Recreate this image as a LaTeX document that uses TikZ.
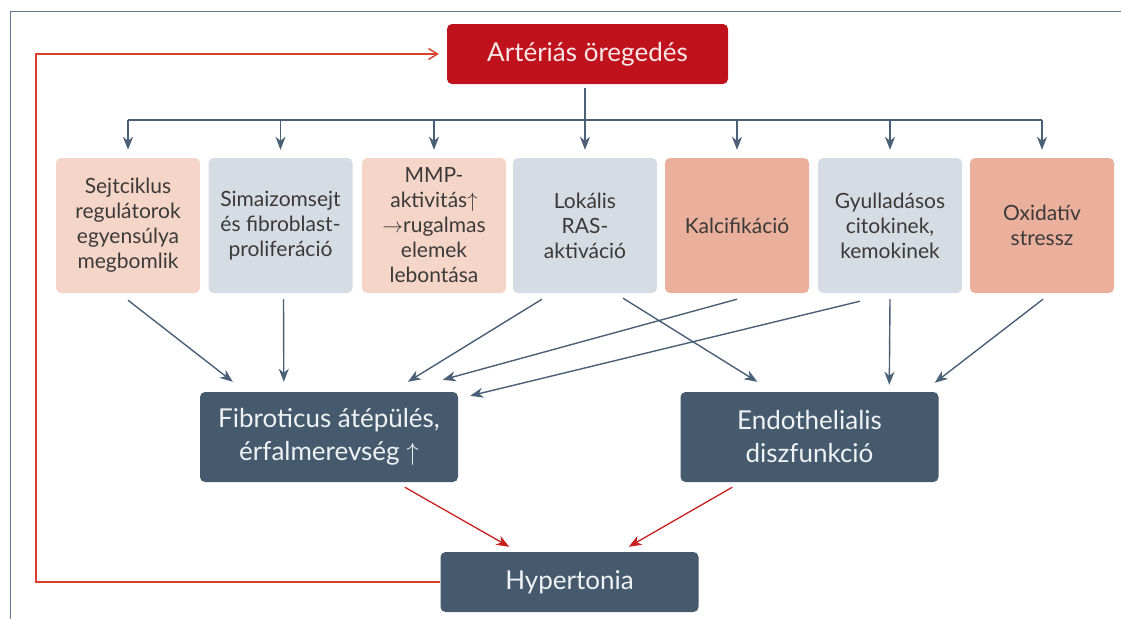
\documentclass[tikz,border=0pt]{standalone}
\usepackage{fontspec}
\setmainfont{Lato}
\usetikzlibrary{arrows.meta}
\usetikzlibrary{calc}
\definecolor{framecol}{HTML}{5F7A92}
\definecolor{agingred}{HTML}{C0121D}
\definecolor{palepink}{HTML}{F6D5C9}
\definecolor{palegray}{HTML}{D6DCE3}
\definecolor{salmonbox}{HTML}{EBB09C}
\definecolor{slate}{HTML}{455A6D}
\definecolor{linkcol}{HTML}{4A6076}
\definecolor{fbred}{HTML}{D9412E}
\definecolor{hypred}{HTML}{C8201E}
\definecolor{boxtext}{HTML}{3A3A3A}

\begin{document}
\begin{tikzpicture}[x=1pt,y=-1pt,
    box/.style={rounded corners=5pt,align=center,inner sep=0pt,minimum width=144pt,minimum height=135pt,text=boxtext,font=\fontsize{21}{25}\selectfont},
    pinkbox/.style={box,fill=palepink},
    graybox/.style={box,fill=palegray},
    redbox/.style={box,fill=salmonbox},
    darkbox/.style={rounded corners=5pt,align=center,inner sep=0pt,fill=slate,text=white!92!slate,minimum width=258pt,minimum height=90pt,font=\fontsize{26}{33}\selectfont},
    link/.style={draw=linkcol,line width=1.4pt,-{Stealth[length=13pt,width=10pt,inset=4pt]}},
    redlink/.style={draw=hypred,line width=1.3pt,-{Stealth[length=13pt,width=10pt,inset=4pt]}}]
    \useasboundingbox (0,0) rectangle (1121,619);
    \draw[framecol,line width=1pt] (1121,11) -- (10,11) -- (10,619);
    %top
    \node[rounded corners=5pt,fill=agingred,text=white!90!agingred,minimum width=281pt,minimum height=60pt,inner sep=0pt,font=\fontsize{26}{33}\selectfont] (aging) at (587.5,54) {Artériás öregedés};
    %row of causes
    \node[pinkbox] (r1) at (128,225.5) {Sejtciklus\\regulátorok\\egyensúlya\\megbomlik};
    \node[graybox] (r2) at (280.5,225.5) {Simaizomsejt\\és fibroblast-\\proliferáció};
    \node[pinkbox] (r3) at (434,225.5) {MMP-\\aktivitás$\uparrow$\\$\rightarrow$rugalmas\\elemek\\lebontása};
    \node[graybox] (r4) at (585,225.5) {Lokális\\RAS-\\aktiváció};
    \node[redbox] (r5) at (737,225.5) {Kalcifikáció};
    \node[graybox] (r6) at (890,225.5) {Gyulladásos\\citokinek,\\kemokinek};
    \node[redbox] (r7) at (1042,225.5) {Oxidatív\\stressz};
    %consequences
    \node[darkbox] (fib) at (329,437) {Fibroticus átépülés,\\érfalmerevség $\uparrow$};
    \node[darkbox] (endo) at (809.5,437) {Endothelialis\\diszfunkció};
    \node[darkbox,minimum height=60pt] (hyp) at (569.5,582) {Hypertonia};
    %bus
    \coordinate (bus) at (585,120);
    \draw[draw=linkcol,line width=1.4pt] ([yshift=-4pt]aging.south -| r4) -- (bus);
    \draw[draw=linkcol,line width=1.4pt] (r1 |- bus) -- (r7 |- bus);
    \foreach \n in {1,...,7}
        \draw[link] (r\n |- bus) -- ([yshift=8pt]r\n.north);
    %into fib
    \draw[link] ($(r1.south)+(0,7)$) -- ($(fib.north west)+(33,-10)$);
    \draw[link] ($(r2.south)+(3,6)$) -- ($(fib.north west)+(84,-10)$);
    \draw[link] ($(r4.south)+(-43,6)$) -- ($(fib.north west)+(208,-10)$);
    \draw[link] ($(r5.south)+(0,6)$) -- ($(fib.north west)+(243,-12)$);
    \draw[link] ($(r6.south)+(-30,8)$) -- ($(fib.north east)+(12,4)$);
    %into endo
    \draw[link] ($(r4.south)+(38,5)$) -- ($(endo.north west)+(77,-10)$);
    \draw[link] ($(r6.south)+(0,6)$) -- ($(endo.north west)+(209,-7)$);
    \draw[link] ($(r7.south)+(1,6)$) -- ($(endo.north east)+(-4,-9)$);
    %hypertonia
    \draw[redlink] ($(fib.south west)+(205,5)$) -- ($(hyp.north west)+(69,-5)$);
    \draw[redlink] ($(endo.south west)+(52,5)$) -- ($(hyp.north east)+(-70,-5)$);
    \coordinate (fb) at (36,582);
    \draw[fbred,line width=1.4pt,-{Straight Barb[length=9pt,width=11pt]},shorten >=8pt] (hyp.west) -- (fb) |- (aging.west);
\end{tikzpicture}
\end{document}
